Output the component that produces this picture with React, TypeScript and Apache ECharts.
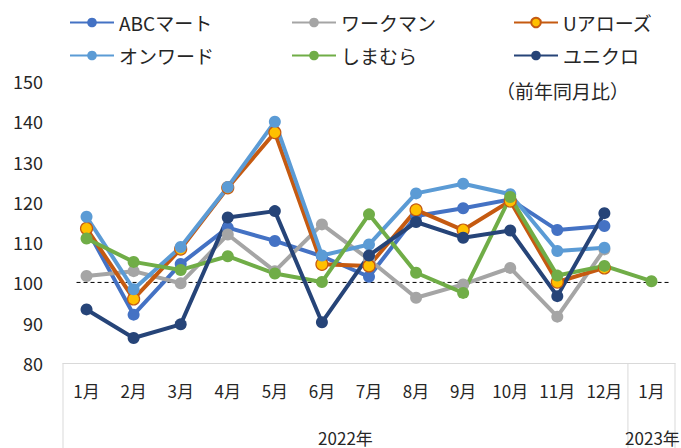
import React, { useEffect, useRef } from "react";
import * as echarts from "echarts";

const months = ["1月", "2月", "3月", "4月", "5月", "6月", "7月", "8月", "9月", "10月", "11月", "12月", "1月"];
const yearLabels = ["2022年", "2023年"];
const abcMart = [113.4, 92.0, 104.6, 113.6, 110.3, 106.5, 101.4, 116.5, 118.4, 120.6, 113.0, 114.0, null];
const workman = [101.6, 102.8, 99.8, 111.9, 102.8, 114.4, 105.7, 96.2, 99.5, 103.6, 91.5, 108.2, null];
const unitedArrows = [113.4, 95.9, 108.3, 123.5, 137.2, 104.5, 104.1, 118.0, 113.0, 120.2, 100.1, 103.6, null];
const onward = [116.3, 98.3, 108.8, 123.7, 139.9, 106.7, 109.4, 122.1, 124.5, 121.9, 107.8, 108.6, null];
const shimamura = [110.9, 105.1, 103.1, 106.5, 102.2, 100.1, 116.9, 102.4, 97.4, 121.2, 101.7, 104.1, 100.3];
const uniqlo = [93.3, 86.2, 89.6, 116.1, 117.7, 90.1, 106.7, 115.0, 111.1, 112.9, 96.6, 117.2, null];

const seriesNames = ["ABCマート", "ワークマン", "Uアローズ", "オンワード", "しまむら", "ユニクロ"];
const lineColors = ["#4472C4", "#A5A5A5", "#C55A11", "#5B9BD5", "#70AD47", "#264478"];
const markerColors = ["#4472C4", "#A5A5A5", "#FFC000", "#5B9BD5", "#70AD47", "#264478"];
const seriesData = [abcMart, workman, unitedArrows, onward, shimamura, uniqlo];

const FONT = "'Noto Sans CJK JP', 'Noto Sans', sans-serif";
const TEXT = "#262626";

export default function App() {
  const ref = useRef<HTMLDivElement>(null);
  useEffect(() => {
    if (!ref.current) return;
    const chart = echarts.init(ref.current, null, { renderer: "svg" });
    const legendPos = [
      [64, 8], [286, 8], [508, 8],
      [64, 41], [286, 41], [508, 41],
    ];
    const option: any = {
      animation: false,
      backgroundColor: "#ffffff",
      textStyle: { fontFamily: FONT },
      grid: { left: 63, right: 6, top: 81, bottom: 85 },
      legend: seriesNames.map((n, i) => ({
        data: [n],
        left: legendPos[i][0],
        top: legendPos[i][1],
        itemWidth: 44,
        itemHeight: 12,
        itemGap: 4,
        textStyle: { fontSize: 19, color: TEXT, fontFamily: FONT },
      })),
      xAxis: {
        type: "category",
        data: months,
        boundaryGap: true,
        axisLine: { show: true, lineStyle: { color: "#D9D9D9", width: 1 } },
        axisTick: { show: false },
        axisLabel: { color: TEXT, fontSize: 17, margin: 19, fontFamily: FONT, interval: 0 },
        splitLine: { show: false },
      },
      yAxis: {
        type: "value",
        min: 80,
        max: 150,
        interval: 10,
        axisLine: { show: false },
        axisTick: { show: false },
        splitLine: { show: false },
        axisLabel: { color: TEXT, fontSize: 18, margin: 20, fontFamily: FONT },
      },
      series: seriesNames.map((n, i) => ({
        name: n,
        type: "line",
        data: seriesData[i],
        symbol: "circle",
        symbolSize: 12,
        connectNulls: false,
        lineStyle: { color: lineColors[i], width: 4 },
        itemStyle: {
          color: markerColors[i],
          borderColor: lineColors[i],
          borderWidth: i === 2 ? 1.2 : 0,
        },
        emphasis: { disabled: true },
      })),
    };
    chart.setOption(option);

    const y100 = chart.convertToPixel({ yAxisIndex: 0 }, 100) as number;
    const yBottom = chart.convertToPixel({ yAxisIndex: 0 }, 80) as number;
    const xFirst = chart.convertToPixel({ xAxisIndex: 0 }, 0) as number;
    const xLast = chart.convertToPixel({ xAxisIndex: 0 }, 12) as number;
    const x12 = chart.convertToPixel({ xAxisIndex: 0 }, 11) as number;
    const step = xLast - x12;
    const leftEdge = xFirst - step / 2;
    const sepX = x12 + step / 2;
    const rightEdge = xLast + step / 2;
    chart.setOption({
      graphic: [
        { type: "line", shape: { x1: xFirst - 10, y1: y100, x2: xLast + 18, y2: y100 }, style: { stroke: "#000", lineWidth: 1, lineDash: [4, 3] }, z: 1 },
        { type: "line", shape: { x1: leftEdge, y1: yBottom, x2: leftEdge, y2: 448 }, style: { stroke: "#D9D9D9", lineWidth: 1 } },
        { type: "line", shape: { x1: sepX, y1: yBottom, x2: sepX, y2: 448 }, style: { stroke: "#D9D9D9", lineWidth: 1 } },
        { type: "line", shape: { x1: rightEdge, y1: yBottom, x2: rightEdge, y2: 448 }, style: { stroke: "#D9D9D9", lineWidth: 1 } },
        { type: "text", x: (leftEdge + sepX) / 2, y: 437, style: { text: yearLabels[0], fill: TEXT, font: `17px ${FONT}`, textAlign: "center", textVerticalAlign: "middle" } },
        { type: "text", x: (sepX + rightEdge) / 2 + 1, y: 437, style: { text: yearLabels[1], fill: TEXT, font: `17px ${FONT}`, textAlign: "center", textVerticalAlign: "middle" } },
        { type: "text", x: 496, y: 90, style: { text: "（前年同月比）", fill: TEXT, font: `19px ${FONT}`, textAlign: "left", textVerticalAlign: "middle" } },
      ],
    });
    return () => chart.dispose();
  }, []);
  return <div ref={ref} style={{ width: 681, height: 448, position: "absolute", left: 0, top: 0 }} />;
}
